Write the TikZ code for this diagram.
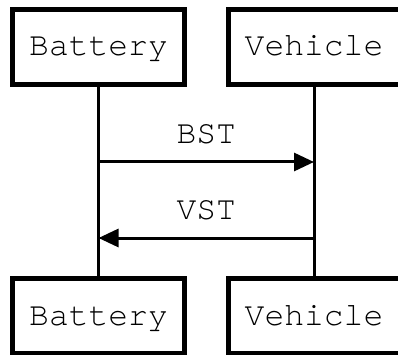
\documentclass[tikz,border=0pt]{standalone}
\usepackage{fontspec}
\setmonofont{texgyrecursor-regular.otf}
\usetikzlibrary{arrows.meta}

\begin{document}
\begin{tikzpicture}[x=1pt, y=-1pt, >={Triangle[length=20pt,width=18pt]},
  actor/.style={draw, line width=5pt, minimum width=172pt, minimum height=75pt,
    inner sep=0pt, text height=18.5pt, text depth=0pt,
    font=\ttfamily\fontsize{33}{39}\selectfont},
  life/.style={line width=3pt},
  msg/.style={line width=3pt},
  lbl/.style={inner sep=0pt, text depth=0pt, font=\ttfamily\fontsize{33}{39}\selectfont}]
  \clip (0,0) rectangle (398,355);
  % participants, top and bottom
  \node[actor] (bt) at (98.5,46.75) {Battery};
  \node[actor] (vt) at (314,46.75) {Vehicle};
  \node[actor] (bb) at (98.5,315.75) {Battery};
  \node[actor] (vb) at (314,315.75) {Vehicle};
  % lifelines
  \draw[life] (bt) -- (bb);
  \draw[life] (vt) -- (vb);
  % messages
  \coordinate (b1) at (98.5,162);
  \coordinate (v1) at (314,162);
  \coordinate (b2) at (98.5,238);
  \coordinate (v2) at (314,238);
  \draw[msg,->] (b1) -- (v1) node[lbl,midway,above=17pt] {BST};
  \draw[msg,->] (v2) -- (b2) node[lbl,midway,above=17pt] {VST};
\end{tikzpicture}
\end{document}
